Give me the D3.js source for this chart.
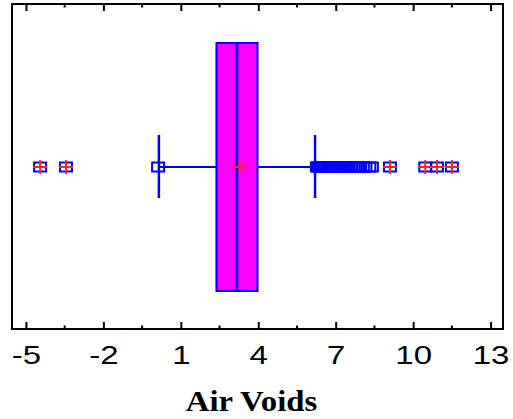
<!DOCTYPE html>
<html><head><meta charset="utf-8">
<script src="https://cdn.jsdelivr.net/npm/d3@7"></script>
<style>html,body{margin:0;padding:0;background:#fff;}</style>
</head><body>
<svg id="c" width="513" height="419"></svg>
<script>
// Data
const tickValues = [-5, -2, 1, 4, 7, 10, 13];
const minorTicks = [-3.5, -0.5, 2.5, 5.5, 8.5, 11.5];
const boxStats = {q1: 2.38, median: 3.17, q3: 3.97, mean: 3.27, lowWhisker: 0.15, highWhisker: 6.2};
const outsidePoints = [0.12, 6.27, 6.32, 6.37, 6.42, 6.5, 6.55, 6.62, 6.7, 6.78, 6.85, 6.92, 7.0, 7.05, 7.12, 7.2, 7.28, 7.35, 7.42, 7.5, 7.6, 7.7, 7.78, 7.88, 7.95, 8.05, 8.15, 8.3, 8.4];
const farOutsidePoints = [-4.45, -3.45, 9.1, 10.47, 10.92, 11.5];
const xTitle = "Air Voids";

const svg = d3.select("#c");
const L = 12, R = 503, T = 4, B = 329;
const x = d3.scaleLinear().domain([-5.54, 13.48]).range([L, R]);
const cy = 167;

// frame
svg.append("rect").attr("x", L).attr("y", T).attr("width", R - L).attr("height", B - T)
  .attr("fill", "none").attr("stroke", "#000").attr("stroke-width", 2);

// bottom axis
const gx = svg.append("g").attr("transform", `translate(0,${B})`)
  .call(d3.axisBottom(x).tickValues(tickValues).tickSize(-7).tickPadding(0).tickFormat(d => String(d)));
gx.select(".domain").remove();
gx.selectAll(".tick line").attr("stroke", "#000").attr("stroke-width", 2);
gx.selectAll(".tick text").attr("font-family", "Liberation Sans, Arial, sans-serif")
  .attr("font-size", 26).attr("fill", "#000").attr("y", 35).attr("dy", null)
  .attr("transform", "scale(1.27,1)");
// minor bottom
svg.append("g").selectAll("line").data(minorTicks).join("line")
  .attr("x1", d => x(d)).attr("x2", d => x(d)).attr("y1", B).attr("y2", B - 3.5)
  .attr("stroke", "#000").attr("stroke-width", 2);
// top axis
const gt = svg.append("g").attr("transform", `translate(0,${T})`)
  .call(d3.axisTop(x).tickValues(tickValues).tickSize(-7).tickFormat(""));
gt.select(".domain").remove();
gt.selectAll(".tick line").attr("stroke", "#000").attr("stroke-width", 2);
svg.append("g").selectAll("line").data(minorTicks).join("line")
  .attr("x1", d => x(d)).attr("x2", d => x(d)).attr("y1", T).attr("y2", T + 3.5)
  .attr("stroke", "#000").attr("stroke-width", 2);

const blue = "#0000FF";
// whiskers
svg.append("line").attr("x1", x(boxStats.lowWhisker)).attr("x2", x(boxStats.q1))
  .attr("y1", cy).attr("y2", cy).attr("stroke", blue).attr("stroke-width", 2);
svg.append("line").attr("x1", x(boxStats.q3)).attr("x2", x(boxStats.highWhisker))
  .attr("y1", cy).attr("y2", cy).attr("stroke", blue).attr("stroke-width", 2);
[boxStats.lowWhisker, boxStats.highWhisker].forEach(v => {
  svg.append("line").attr("x1", x(v)).attr("x2", x(v)).attr("y1", 135).attr("y2", 198)
    .attr("stroke", blue).attr("stroke-width", 2.5);
});
// box
svg.append("rect").attr("x", x(boxStats.q1)).attr("y", 43)
  .attr("width", x(boxStats.q3) - x(boxStats.q1)).attr("height", 248)
  .attr("fill", "#FF00FF").attr("stroke", blue).attr("stroke-width", 2);
svg.append("line").attr("x1", x(boxStats.median)).attr("x2", x(boxStats.median))
  .attr("y1", 43).attr("y2", 291).attr("stroke", blue).attr("stroke-width", 3);
// mean plus
const red = "#FF2020";
function plus(v) {
  svg.append("line").attr("x1", x(v) - 7).attr("x2", x(v) + 7).attr("y1", cy).attr("y2", cy)
    .attr("stroke", red).attr("stroke-width", 2);
  svg.append("line").attr("x1", x(v)).attr("x2", x(v)).attr("y1", cy - 7).attr("y2", cy + 7)
    .attr("stroke", red).attr("stroke-width", 2);
}
plus(boxStats.mean);

// outside points
function sq(v) {
  svg.append("rect").attr("x", x(v) - 6).attr("y", cy - 4.5).attr("width", 12).attr("height", 9)
    .attr("fill", "none").attr("stroke", blue).attr("stroke-width", 2);
}
outsidePoints.forEach(sq);
farOutsidePoints.forEach(v => { sq(v); plus(v); });

// title
svg.append("text").attr("x", 0).attr("y", 0)
  .attr("transform", `translate(${(L + R) / 2 - 6},411) scale(1.13,1)`)
  .attr("text-anchor", "middle").attr("font-family", "Liberation Serif, Times New Roman, serif")
  .attr("font-weight", "bold").attr("font-size", 29).attr("fill", "#000").text(xTitle);
</script>
</body></html>
